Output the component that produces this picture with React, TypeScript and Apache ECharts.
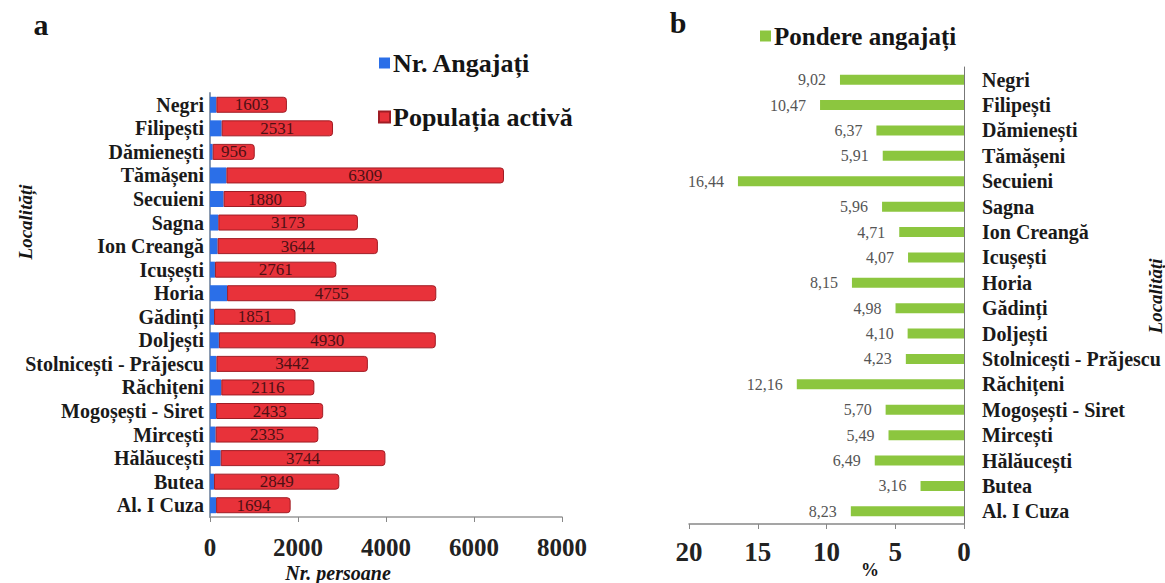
import React, { useEffect, useRef } from "react";
import * as echarts from "echarts";

const categories = [
  "Negri", "Filipești", "Dămienești", "Tămășeni", "Secuieni", "Sagna", "Ion Creangă",
  "Icușești", "Horia", "Gădinți", "Doljești", "Stolnicești - Prăjescu", "Răchițeni",
  "Mogoșești - Siret", "Mircești", "Hălăucești", "Butea", "Al. I Cuza",
];
const populatiaActiva = [1603, 2531, 956, 6309, 1880, 3173, 3644, 2761, 4755, 1851, 4930, 3442, 2116, 2433, 2335, 3744, 2849, 1694];
const nrAngajati = [145, 265, 61, 373, 309, 189, 172, 112, 388, 92, 202, 146, 257, 139, 128, 243, 90, 139];
const pondereAngajati = [9.02, 10.47, 6.37, 5.91, 16.44, 5.96, 4.71, 4.07, 8.15, 4.98, 4.10, 4.23, 12.16, 5.70, 5.49, 6.49, 3.16, 8.23];
const leftTicks = [0, 2000, 4000, 6000, 8000];
const rightTicks = [0, 5, 10, 15, 20];

const SERIF = "Liberation Serif";

export default function App() {
  const ref = useRef<HTMLDivElement>(null);
  useEffect(() => {
    document.body.style.margin = "0";
    const chart = echarts.init(ref.current!, null, { renderer: "svg" });
    const txt = (text: string, x: number, y: number, size: number, opts: any = {}) => ({
      type: "text",
      x,
      y,
      rotation: opts.rotation || 0,
      style: {
        text,
        fontFamily: SERIF,
        fontSize: size,
        fontWeight: opts.weight || "bold",
        fontStyle: opts.style || "normal",
        fill: "#151515",
        align: "center",
        verticalAlign: "middle",
      },
    });
    chart.setOption({
      animation: false,
      backgroundColor: "#ffffff",
      textStyle: { fontFamily: SERIF },
      legend: [
        {
          data: ["Nr. Angajați", "Populația activă"],
          orient: "vertical",
          left: 373,
          top: 45,
          itemGap: 28,
          icon: "rect",
          itemWidth: 11,
          itemHeight: 11,
          textStyle: { fontFamily: SERIF, fontWeight: "bold", fontSize: 26, lineHeight: 26, color: "#151515", padding: [0, 0, 0, -2] },
        },
        {
          data: ["Pondere angajați"],
          left: 755,
          top: 18,
          icon: "rect",
          itemWidth: 11,
          itemHeight: 11,
          textStyle: { fontFamily: SERIF, fontWeight: "bold", fontSize: 25, lineHeight: 26, color: "#151515", padding: [0, 0, 0, -2] },
        },
      ],
      grid: [
        { left: 210, right: 1165 - 562, top: 93, bottom: 583 - 517 },
        { left: 689, right: 1165 - 964, top: 67, bottom: 583 - 524 },
      ],
      xAxis: [
        {
          gridIndex: 0,
          type: "value",
          min: leftTicks[0],
          max: leftTicks[leftTicks.length - 1],
          interval: 2000,
          splitLine: { show: false },
          axisLine: { show: true, lineStyle: { color: "#999", width: 1.5 } },
          axisTick: { show: true, length: 5, lineStyle: { color: "#888" } },
          axisLabel: {
            fontFamily: SERIF,
            fontWeight: "bold",
            fontSize: 25,
            color: "#222",
            margin: 18,
            formatter: (v: number) => String(v),
          },
        },
        {
          gridIndex: 1,
          type: "value",
          inverse: true,
          min: rightTicks[0],
          max: rightTicks[rightTicks.length - 1],
          interval: 5,
          splitLine: { show: false },
          axisLine: { show: true, lineStyle: { color: "#888", width: 1.5 } },
          axisTick: { show: true, length: 5, lineStyle: { color: "#888" } },
          axisLabel: { fontFamily: SERIF, fontWeight: "bold", fontSize: 27, color: "#222", margin: 14 },
        },
      ],
      yAxis: [
        {
          gridIndex: 0,
          type: "category",
          data: categories,
          inverse: true,
          axisLine: { show: true, lineStyle: { color: "#8a9ab0", width: 2 } },
          axisTick: { show: false },
          axisLabel: { interval: 0, fontFamily: SERIF, fontWeight: "bold", fontSize: 20, color: "#1a1a1a", margin: 6 },
        },
        {
          gridIndex: 1,
          type: "category",
          data: categories,
          inverse: true,
          position: "right",
          axisLine: { show: true, lineStyle: { color: "#777", width: 1 } },
          axisTick: { show: false },
          axisLabel: { interval: 0, fontFamily: SERIF, fontWeight: "bold", fontSize: 20, color: "#1a1a1a", margin: 18 },
        },
      ],
      series: [
        {
          name: "Nr. Angajați",
          type: "bar",
          xAxisIndex: 0,
          yAxisIndex: 0,
          stack: "a",
          data: nrAngajati,
          barWidth: 16,
          itemStyle: { color: "#2b6fe8" },
        },
        {
          name: "Populația activă",
          type: "bar",
          xAxisIndex: 0,
          yAxisIndex: 0,
          stack: "a",
          data: populatiaActiva,
          barWidth: 16,
          itemStyle: { color: "#e8323a", borderColor: "#a01c24", borderWidth: 1, borderRadius: [0, 3, 3, 0] },
          label: {
            show: true,
            position: "inside",
            fontFamily: SERIF,
            fontSize: 17,
            color: "#4e1014",
          },
        },
        {
          name: "Pondere angajați",
          type: "bar",
          xAxisIndex: 1,
          yAxisIndex: 1,
          data: pondereAngajati,
          barWidth: 10,
          itemStyle: { color: "#8cc63f" },
          label: {
            show: true,
            position: "left",
            distance: 14,
            fontFamily: SERIF,
            fontSize: 16,
            color: "#555",
            formatter: (p: any) => Number(p.value).toFixed(2).replace(".", ","),
          },
        },
      ],
      graphic: [
        txt("a", 41, 24, 30),
        txt("b", 678, 22, 30),
        txt("Localități", 25, 222, 19, { rotation: Math.PI / 2, style: "italic" }),
        txt("Localități", 1155, 296, 19, { rotation: Math.PI / 2, style: "italic" }),
        txt("Nr. persoane", 338, 573, 20, { style: "italic" }),
        txt("%", 870, 570, 18),
      ],
    });
    return () => chart.dispose();
  }, []);
  return <div ref={ref} style={{ width: 1165, height: 583 }} />;
}
